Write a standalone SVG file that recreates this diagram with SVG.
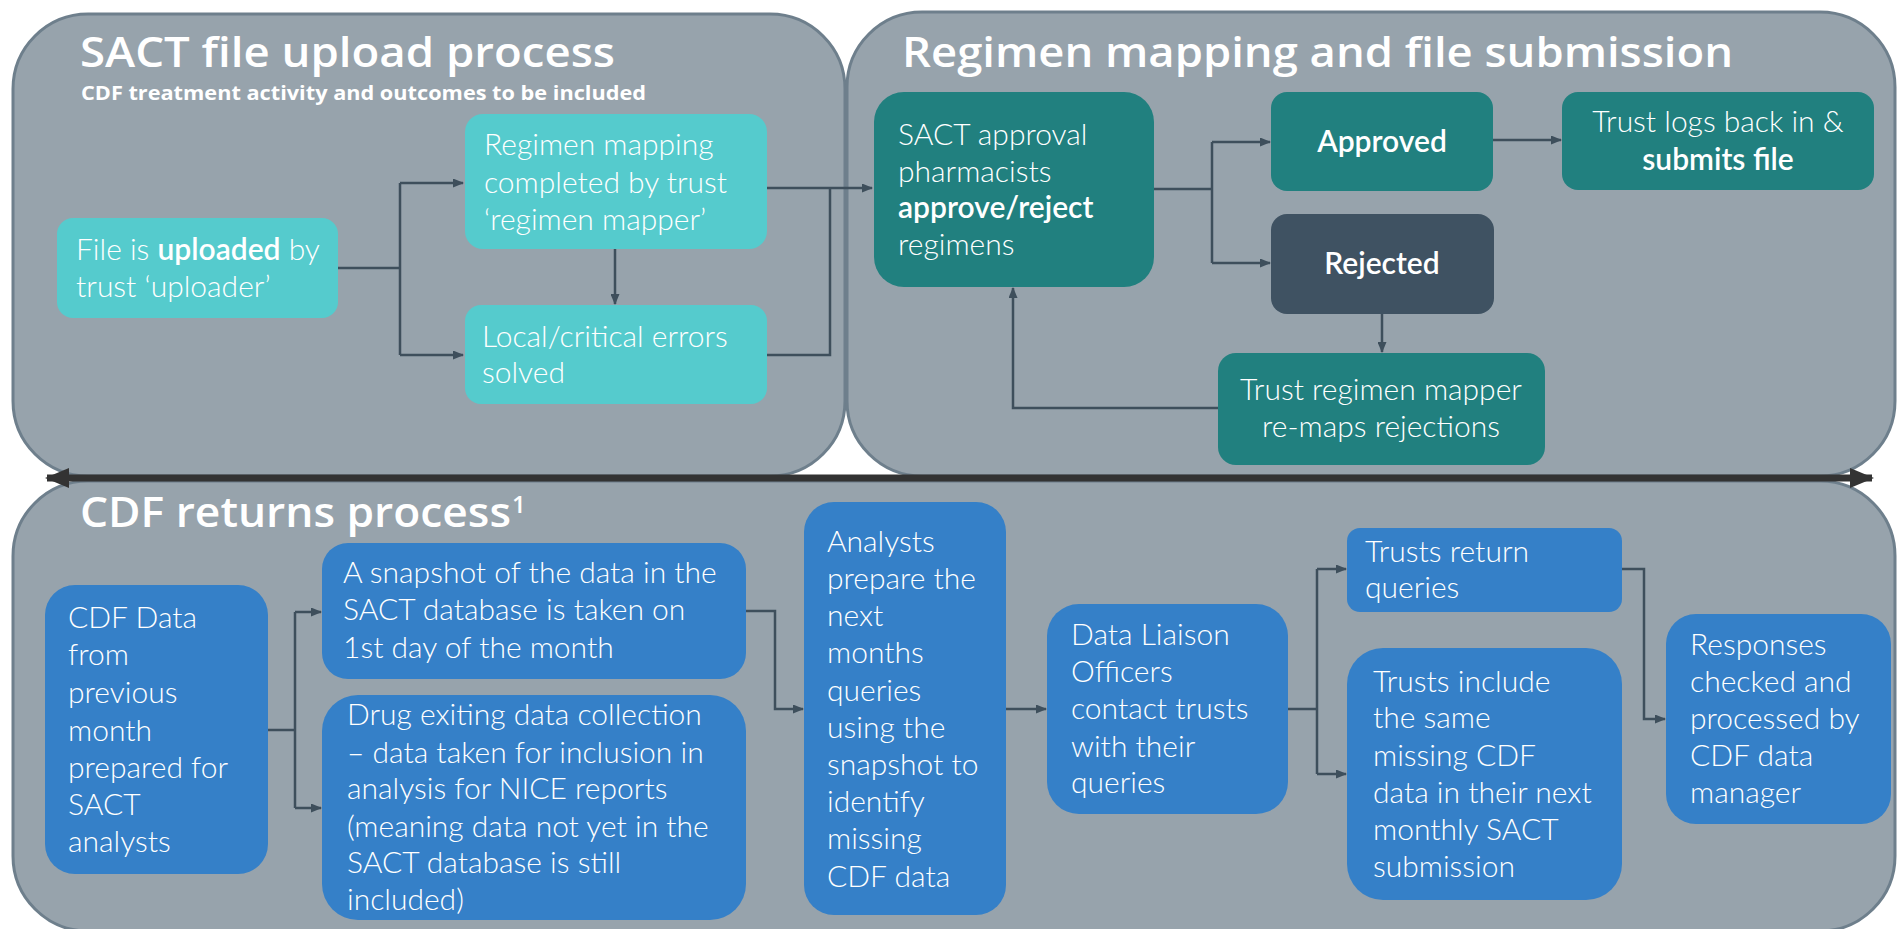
<svg xmlns="http://www.w3.org/2000/svg" width="1897" height="929" viewBox="0 0 1897 929">
<defs>
<style>
.panel{fill:#97A3AC;stroke:#6E7F8C;stroke-width:3}
.t1{fill:#55CBCD}
.t2{fill:#21807F}
.t3{fill:#3F5262}
.bl{fill:#3580C8}
.title{font-family:"Open Sans","Noto Sans",sans-serif;font-weight:600;fill:#fff;font-size:42px}
.sub{font-family:"Open Sans","Noto Sans",sans-serif;font-weight:700;fill:#fff;font-size:20px}
.tx{font-family:Lato,"Open Sans",sans-serif;font-weight:300;fill:#fff;font-size:30px}
.b{font-weight:600}
.con{fill:none;stroke:#3E4F5C;stroke-width:2.5}
</style>
<marker id="ah" markerUnits="userSpaceOnUse" markerWidth="11" markerHeight="9" refX="10" refY="4.5" orient="auto">
<path d="M0,0 L11,4.5 L0,9 z" fill="#3E4F5C"/>
</marker>
<marker id="big" markerUnits="userSpaceOnUse" markerWidth="24" markerHeight="20" refX="22" refY="10" orient="auto-start-reverse">
<path d="M0,0 L24,10 L0,20 z" fill="#333333"/>
</marker>
</defs>
<rect width="1897" height="929" fill="#ffffff"/>

<g id="panel-upload">
<rect class="panel" x="13" y="14" width="832" height="462" rx="75"/>
<text class="title" x="80" y="67" textLength="535" lengthAdjust="spacingAndGlyphs">SACT file upload process</text>
<text class="sub" x="81" y="100" textLength="565" lengthAdjust="spacingAndGlyphs">CDF treatment activity and outcomes to be included</text>
</g>
<g id="panel-regimen">
<rect class="panel" x="847" y="12" width="1048" height="464" rx="75"/>
<text class="title" x="902" y="67" textLength="831" lengthAdjust="spacingAndGlyphs">Regimen mapping and file submission</text>
</g>
<g id="panel-returns">
<rect class="panel" x="13" y="481" width="1882" height="450" rx="75"/>
<text class="title" x="80" y="527" textLength="431" lengthAdjust="spacingAndGlyphs">CDF returns process</text>
<text class="title" x="512" y="513" style="font-size:24px">1</text>
</g>

<g id="timeline">
<line x1="47" y1="478" x2="1872" y2="478" stroke="#333333" stroke-width="7" marker-start="url(#big)" marker-end="url(#big)"/>
</g>

<g id="connectors">
<path class="con" d="M338 268 H400"/>
<path class="con" d="M400 183 V355"/>
<path class="con" d="M400 183 H463" marker-end="url(#ah)"/>
<path class="con" d="M400 355 H463" marker-end="url(#ah)"/>
<path class="con" d="M615 249 V304" marker-end="url(#ah)"/>
<path class="con" d="M767 355 H830 V188"/>
<path class="con" d="M767 188 H872" marker-end="url(#ah)"/>
<path class="con" d="M1154 189 H1212"/>
<path class="con" d="M1212 142 V263"/>
<path class="con" d="M1212 142 H1270" marker-end="url(#ah)"/>
<path class="con" d="M1212 263 H1270" marker-end="url(#ah)"/>
<path class="con" d="M1493 140 H1561" marker-end="url(#ah)"/>
<path class="con" d="M1382 314 V352" marker-end="url(#ah)"/>
<path class="con" d="M1218 408 H1013 V288" marker-end="url(#ah)"/>
<path class="con" d="M268 730 H295"/>
<path class="con" d="M295 612 V808"/>
<path class="con" d="M295 612 H321" marker-end="url(#ah)"/>
<path class="con" d="M295 808 H321" marker-end="url(#ah)"/>
<path class="con" d="M746 611 H775 V709 H803" marker-end="url(#ah)"/>
<path class="con" d="M1006 709 H1046" marker-end="url(#ah)"/>
<path class="con" d="M1288 709 H1317"/>
<path class="con" d="M1317 569 V774"/>
<path class="con" d="M1317 569 H1346" marker-end="url(#ah)"/>
<path class="con" d="M1317 774 H1346" marker-end="url(#ah)"/>
<path class="con" d="M1622 569 H1644 V719 H1665" marker-end="url(#ah)"/>
</g>

<g id="n-upload">
<rect class="t1" x="57" y="218" width="281" height="100" rx="16"/>
<text class="tx" x="76" y="260">File is <tspan class="b">uploaded</tspan> by</text>
<text class="tx" x="76" y="297">trust ‘uploader’</text>
</g>
<g id="n-mapping">
<rect class="t1" x="465" y="114" width="302" height="135" rx="18"/>
<text class="tx" x="484" y="155">Regimen mapping</text>
<text class="tx" x="484" y="193">completed by trust</text>
<text class="tx" x="484" y="230">‘regimen mapper’</text>
</g>
<g id="n-errors">
<rect class="t1" x="465" y="305" width="302" height="99" rx="16"/>
<text class="tx" x="482" y="347">Local/critical errors</text>
<text class="tx" x="482" y="383">solved</text>
</g>
<g id="n-approval">
<rect class="t2" x="874" y="92" width="280" height="195" rx="30"/>
<text class="tx" x="898" y="145">SACT approval</text>
<text class="tx" x="898" y="182">pharmacists</text>
<text class="tx b" x="898" y="218">approve/reject</text>
<text class="tx" x="898" y="255">regimens</text>
</g>
<g id="n-approved">
<rect class="t2" x="1271" y="92" width="222" height="99" rx="16"/>
<text class="tx b" x="1382" y="152" text-anchor="middle">Approved</text>
</g>
<g id="n-submits">
<rect class="t2" x="1562" y="92" width="312" height="98" rx="16"/>
<text class="tx" x="1718" y="132" text-anchor="middle">Trust logs back in &amp;</text>
<text class="tx b" x="1718" y="170" text-anchor="middle">submits file</text>
</g>
<g id="n-rejected">
<rect class="t3" x="1271" y="214" width="223" height="100" rx="16"/>
<text class="tx b" x="1382" y="274" text-anchor="middle">Rejected</text>
</g>
<g id="n-remap">
<rect class="t2" x="1218" y="353" width="327" height="112" rx="18"/>
<text class="tx" x="1381" y="400" text-anchor="middle">Trust regimen mapper</text>
<text class="tx" x="1381" y="437" text-anchor="middle">re-maps rejections</text>
</g>

<g id="n-cdfdata">
<rect class="bl" x="45" y="585" width="223" height="289" rx="30"/>
<text class="tx" x="68" y="628">CDF Data</text>
<text class="tx" x="68" y="665">from</text>
<text class="tx" x="68" y="703">previous</text>
<text class="tx" x="68" y="741">month</text>
<text class="tx" x="68" y="778">prepared for</text>
<text class="tx" x="68" y="815">SACT</text>
<text class="tx" x="68" y="852">analysts</text>
</g>
<g id="n-snapshot">
<rect class="bl" x="322" y="543" width="424" height="136" rx="26"/>
<text class="tx" x="343" y="583">A snapshot of the data in the</text>
<text class="tx" x="343" y="620">SACT database is taken on</text>
<text class="tx" x="343" y="658">1st day of the month</text>
</g>
<g id="n-drug">
<rect class="bl" x="322" y="695" width="424" height="225" rx="36"/>
<text class="tx" x="347" y="725">Drug exiting data collection</text>
<text class="tx" x="347" y="763">– data taken for inclusion in</text>
<text class="tx" x="347" y="799">analysis for NICE reports</text>
<text class="tx" x="347" y="837">(meaning data not yet in the</text>
<text class="tx" x="347" y="873">SACT database is still</text>
<text class="tx" x="347" y="910">included)</text>
</g>
<g id="n-analysts">
<rect class="bl" x="804" y="502" width="202" height="413" rx="30"/>
<text class="tx" x="827" y="552">Analysts</text>
<text class="tx" x="827" y="589">prepare the</text>
<text class="tx" x="827" y="626">next</text>
<text class="tx" x="827" y="663">months</text>
<text class="tx" x="827" y="701">queries</text>
<text class="tx" x="827" y="738">using the</text>
<text class="tx" x="827" y="775">snapshot to</text>
<text class="tx" x="827" y="812">identify</text>
<text class="tx" x="827" y="849">missing</text>
<text class="tx" x="827" y="887">CDF data</text>
</g>
<g id="n-dlo">
<rect class="bl" x="1047" y="604" width="241" height="210" rx="32"/>
<text class="tx" x="1071" y="645">Data Liaison</text>
<text class="tx" x="1071" y="682">Officers</text>
<text class="tx" x="1071" y="719">contact trusts</text>
<text class="tx" x="1071" y="757">with their</text>
<text class="tx" x="1071" y="793">queries</text>
</g>
<g id="n-return">
<rect class="bl" x="1347" y="528" width="275" height="84" rx="13"/>
<text class="tx" x="1365" y="562">Trusts return</text>
<text class="tx" x="1365" y="598">queries</text>
</g>
<g id="n-include">
<rect class="bl" x="1347" y="648" width="275" height="252" rx="36"/>
<text class="tx" x="1373" y="692">Trusts include</text>
<text class="tx" x="1373" y="728">the same</text>
<text class="tx" x="1373" y="766">missing CDF</text>
<text class="tx" x="1373" y="803">data in their next</text>
<text class="tx" x="1373" y="840">monthly SACT</text>
<text class="tx" x="1373" y="877">submission</text>
</g>
<g id="n-responses">
<rect class="bl" x="1666" y="614" width="225" height="210" rx="30"/>
<text class="tx" x="1690" y="655">Responses</text>
<text class="tx" x="1690" y="692">checked and</text>
<text class="tx" x="1690" y="729">processed by</text>
<text class="tx" x="1690" y="766">CDF data</text>
<text class="tx" x="1690" y="803">manager</text>
</g>
</svg>
